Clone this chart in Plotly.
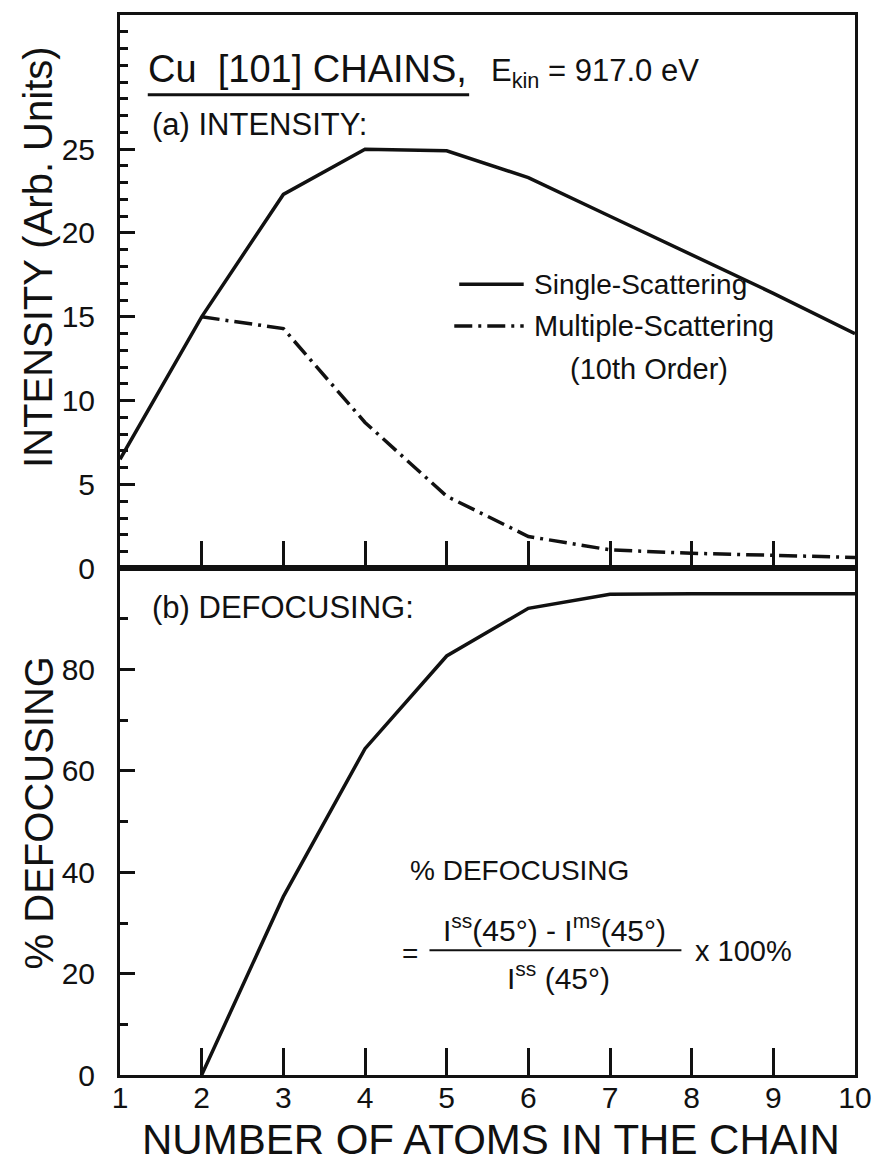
import plotly.graph_objects as go
from plotly.subplots import make_subplots

# ---- data ----
atoms = [1, 2, 3, 4, 5, 6, 7, 8, 9, 10]
single_scattering = [6.5, 15.0, 22.3, 25.0, 24.9, 23.3, 21.0, 18.7, 16.4, 14.0]
ms_atoms = [2, 3, 4, 5, 6, 7, 8, 9, 10]
multiple_scattering = [15.0, 14.3, 8.7, 4.3, 1.9, 1.1, 0.9, 0.8, 0.65]
def_atoms = [2, 3, 4, 5, 6, 7, 8, 9, 10]
defocusing = [0.0, 35.2, 64.4, 82.7, 92.1, 94.9, 95.0, 95.0, 95.0]

int_ticks = [0, 5, 10, 15, 20, 25]
def_ticks = [0, 20, 40, 60, 80]
x_ticks = [1, 2, 3, 4, 5, 6, 7, 8, 9, 10]

NARROW = "Liberation Sans Narrow, Arial Narrow, Liberation Sans, sans-serif"
REG = "Liberation Sans, Arial, sans-serif"
BLACK = "#111111"

fig = make_subplots(rows=2, cols=1, shared_xaxes=False, vertical_spacing=0,
                    row_heights=[0.522, 0.478])

fig.add_trace(go.Scatter(x=atoms, y=single_scattering, mode="lines",
                         name="Single-Scattering",
                         line=dict(color=BLACK, width=3.5)), row=1, col=1)
fig.add_trace(go.Scatter(x=ms_atoms, y=multiple_scattering, mode="lines",
                         name="Multiple-Scattering (10th Order)",
                         line=dict(color=BLACK, width=3.5, dash="18px,6px,3px,6px")),
              row=1, col=1)
fig.add_trace(go.Scatter(x=def_atoms, y=defocusing, mode="lines",
                         name="% Defocusing",
                         line=dict(color=BLACK, width=3.5)), row=2, col=1)

axis_common = dict(showline=True, linecolor=BLACK, linewidth=3, mirror=True,
                   showgrid=False, zeroline=False, ticks="inside",
                   tickcolor=BLACK, tickwidth=2.5)

fig.update_xaxes(range=[1, 10], tickvals=x_ticks[1:-1], ticklen=27,
                 showticklabels=False, row=1, col=1, **axis_common)
fig.update_xaxes(range=[1, 10], tickvals=x_ticks, ticklen=27,
                 ticktext=[str(v) for v in x_ticks],
                 tickfont=dict(family=REG, size=30, color=BLACK),
                 ticklabelstandoff=-6,
                 row=2, col=1, **axis_common)
fig.update_yaxes(range=[0, 33], tickvals=int_ticks, ticklen=15,
                 minor=dict(dtick=1, tick0=0, ticklen=8, ticks="inside",
                            tickcolor=BLACK, tickwidth=2.5),
                 tickfont=dict(family=REG, size=30, color=BLACK),
                 ticklabelstandoff=16, row=1, col=1, **axis_common)
fig.update_yaxes(range=[0, 100], tickvals=def_ticks, ticklen=15,
                 minor=dict(dtick=10, tick0=0, ticklen=8, ticks="inside",
                            tickcolor=BLACK, tickwidth=2.5),
                 tickfont=dict(family=REG, size=30, color=BLACK),
                 ticklabelstandoff=16, row=2, col=1, **axis_common)

# plot area geometry (pixels) used to place decorations in paper coords
L, R, T, B = 120, 861, 12, 1075
def px(x):
    return (x - L) / (R - L)
def py(y):
    return (B - y) / (B - T)

ann = []
def text(x, y, s, size, font=NARROW, anchor="left", angle=0):
    ann.append(dict(x=px(x), y=py(y), xref="paper", yref="paper", text=s,
                    showarrow=False, xanchor=anchor, yanchor="middle",
                    textangle=angle, font=dict(family=font, size=size, color=BLACK)))

text(146, 66, "Cu  [101] CHAINS,", 38)
text(492, 70, "E<sub>kin</sub> = 917.0 eV", 31)
text(150, 122, "(a) INTENSITY:", 31)
text(150, 606, "(b) DEFOCUSING:", 31)
text(535, 282, "Single-Scattering", 28)
text(535, 324, "Multiple-Scattering", 29)
text(572, 367, "(10th Order)", 29)
text(410, 870, "% DEFOCUSING", 28)
text(402, 953, "=", 28)
text(558, 928, "I<sup>ss</sup>(45°) - I<sup>ms</sup>(45°)", 30, anchor="center")
text(562, 976, "I<sup>ss</sup> (45°)", 30, anchor="center")
text(698, 951, "x 100%", 29)
text(38, 255, "INTENSITY (Arb. Units)", 40, anchor="center", angle=-90)
text(38, 812, "% DEFOCUSING", 40, anchor="center", angle=-90)
text(494, 1140, "NUMBER OF ATOMS IN THE CHAIN", 42, anchor="center")

shapes = [
    dict(type="line", xref="paper", yref="paper", x0=px(148), x1=px(472),
         y0=py(92), y1=py(92), line=dict(color=BLACK, width=3)),
    dict(type="line", xref="paper", yref="paper", x0=px(462), x1=px(527),
         y0=py(282), y1=py(282), line=dict(color=BLACK, width=3.5)),
    dict(type="line", xref="paper", yref="paper", x0=px(457), x1=px(527),
         y0=py(324), y1=py(324),
         line=dict(color=BLACK, width=3.5, dash="18px,6px,3px,6px")),
    dict(type="line", xref="paper", yref="paper", x0=px(432), x1=px(686),
         y0=py(950), y1=py(950), line=dict(color=BLACK, width=2)),
]

fig.update_layout(width=884, height=1170, autosize=False,
                  margin=dict(l=L, r=884 - R, t=T, b=1170 - B),
                  paper_bgcolor="white", plot_bgcolor="white",
                  showlegend=False, annotations=ann, shapes=shapes)

fig.write_html("out.html")
